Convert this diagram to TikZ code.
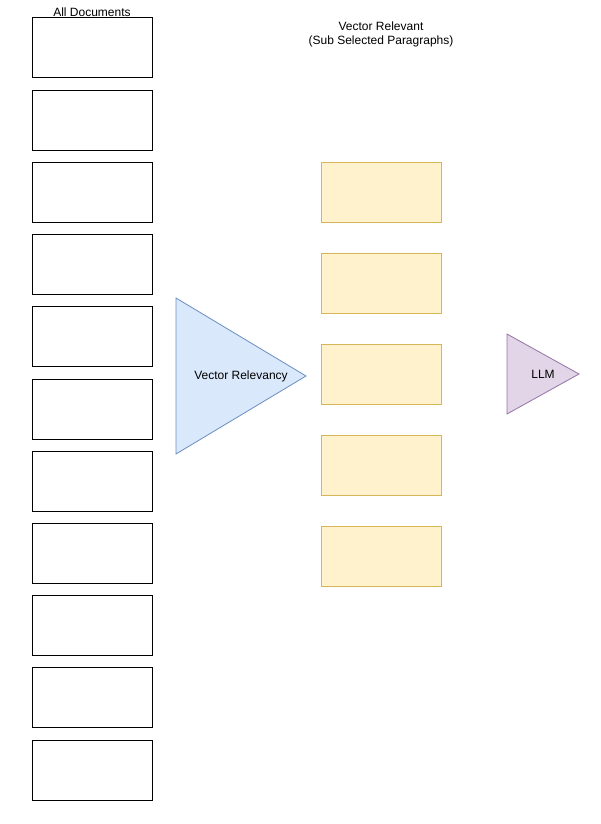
\documentclass[tikz,border=0pt]{standalone}
\usepackage{fontspec}
\setmainfont{Liberation Sans}
\definecolor{blueF}{HTML}{DAE8FC}
\definecolor{blueS}{HTML}{6C8EBF}
\definecolor{yelF}{HTML}{FFF2CC}
\definecolor{yelS}{HTML}{D6B656}
\definecolor{purF}{HTML}{E1D5E7}
\definecolor{purS}{HTML}{9673A6}
\begin{document}
\begin{tikzpicture}[x=1pt,y=-1pt,
  doc/.style={draw=black,line width=1pt,fill=white},
  para/.style={draw=yelS,line width=0.8pt,fill=yelF},
  lbl/.style={inner sep=0pt,font=\fontsize{12}{14.5}\selectfont,align=center}]
\useasboundingbox (0,0) rectangle (600,824);
% documents
\foreach \i in {0,...,10}{
  \pgfmathsetmacro\yy{18+72.2*\i}
  \draw[doc] (32,\yy) rectangle ++(120,60) coordinate (doc\i);
}
\node[lbl] (alldocs) at (92,12) {All Documents};
% vector relevancy triangle
\draw[draw=blueS,fill=blueF,line width=0.8pt] (176,298) coordinate (vrTop) -- (306,376) coordinate (vrApex) -- (176,454) coordinate (vrBot) -- cycle;
\node[lbl] (vr) at (241,376.5) {Vector Relevancy};
% paragraphs
\foreach \i in {0,...,4}{
  \pgfmathsetmacro\yy{162+91*\i}
  \draw[para] (321,\yy) rectangle ++(120,60) coordinate (par\i);
}
\node[lbl] (vrtitle) at (381,34.5) {Vector Relevant\\(Sub Selected Paragraphs)};
% LLM triangle
\draw[draw=purS,fill=purF,line width=0.8pt] (507,334) coordinate (llmTop) -- (579,374) coordinate (llmApex) -- (507,414) coordinate (llmBot) -- cycle;
\node[lbl] (llm) at (543,374) {LLM};
\end{tikzpicture}
\end{document}
